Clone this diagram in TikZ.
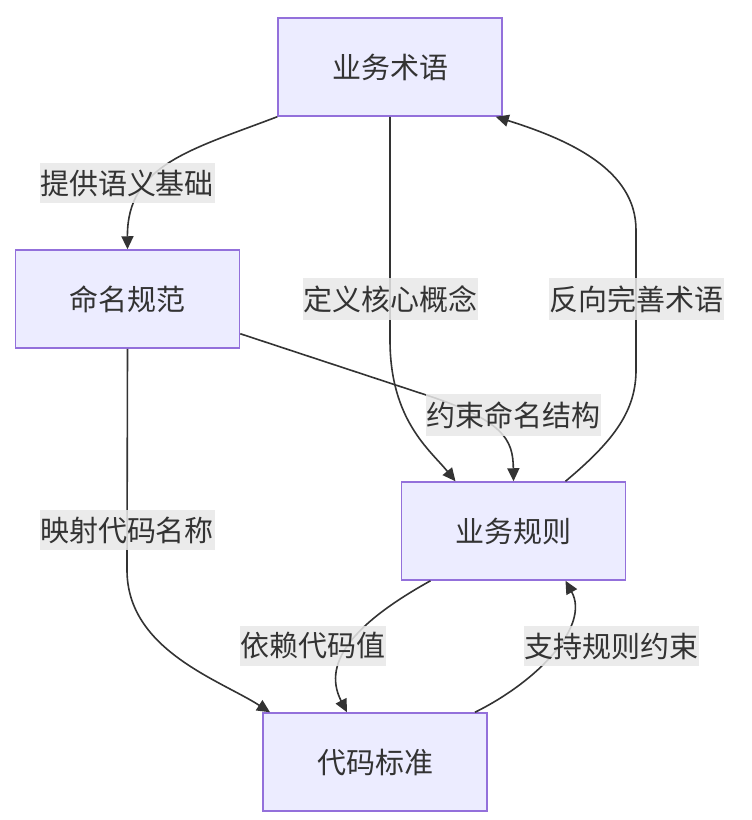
\documentclass[tikz,border=0pt]{standalone}
\usepackage{fontspec}
\setmainfont{Noto Sans CJK SC}
\usetikzlibrary{arrows.meta,positioning}
\definecolor{boxfill}{HTML}{ECECFF}
\definecolor{boxline}{HTML}{9370DB}
\definecolor{lblfill}{HTML}{E8E8E8}
\definecolor{ink}{HTML}{333333}

\begin{document}
\begin{tikzpicture}[
    x=1pt, y=-1pt,
    box/.style={rectangle, draw=boxline, fill=boxfill, line width=1.5pt, minimum width=224pt, minimum height=98pt, font=\fontsize{29}{34}\selectfont, text=ink},
    edge label/.style={fill=lblfill, fill opacity=0.85, text opacity=1, inner xsep=0.5pt, inner ysep=7pt, font=\fontsize{29}{34}\selectfont, text=ink},
    link/.style={draw=ink, line width=1.6pt, -{Triangle[length=13pt,width=12pt]}}
]
\useasboundingbox (0,0) rectangle (752,820);

% Nodes
\node[box] (term)   at (390,67)    {业务术语};
\node[box] (naming) at (127.5,299) {命名规范};
\node[box] (rule)   at (513.5,531) {业务规则};
\node[box] (code)   at (375,762)   {代码标准};

% Connectors
\draw[link] (term.south west) .. controls (190,150) and (127,165) .. (naming.north);
\draw[link] (term.south) -- (390,340) .. controls (390,420) and (430,450) .. ([xshift=-58pt]rule.north);
\draw[link] ([xshift=52pt]rule.north) .. controls (615,440) and (636,410) .. (636,370)
    -- (636,230) .. controls (636,170) and (570,140) .. ([xshift=-7pt]term.south east);
\draw[link] ([yshift=15pt]naming.south east) -- (420,393) .. controls (505,420) and (513,440) .. (rule.north);
\draw[link] (naming.south) -- (127,570) .. controls (127,650) and (220,680) .. ([xshift=-105pt]code.north);
\draw[link] ([xshift=-83pt]rule.south) .. controls (360,620) and (320,660) .. ([xshift=-28pt]code.north);
\draw[link] ([xshift=100pt]code.north) .. controls (540,680) and (590,625) .. ([xshift=52pt]rule.south);

% Labels
\node[edge label] (l1) at (127,183) {提供语义基础};
\node[edge label] (l2) at (390,299) {定义核心概念};
\node[edge label] (l3) at (636,299) {反向完善术语};
\node[edge label] (l4) at (513,415) {约束命名结构};
\node[edge label] (l5) at (127,530) {映射代码名称};
\node[edge label] (l6) at (313,646) {依赖代码值};
\node[edge label] (l7) at (611,646) {支持规则约束};

\end{tikzpicture}
\end{document}
